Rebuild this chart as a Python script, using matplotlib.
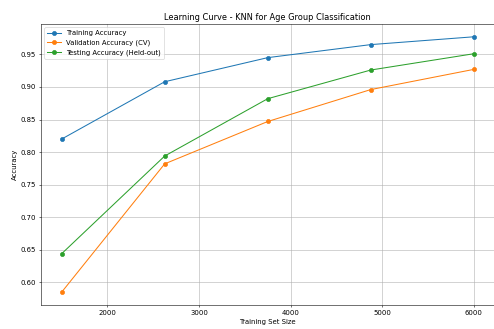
import matplotlib
matplotlib.use("Agg")
import matplotlib.pyplot as plt

train_sizes = [1500, 2625, 3750, 4875, 6000]
train_acc = [0.820, 0.908, 0.945, 0.965, 0.977]
val_acc = [0.585, 0.782, 0.847, 0.896, 0.927]
test_acc = [0.644, 0.794, 0.882, 0.926, 0.951]

fig = plt.figure(figsize=(10, 6.66), dpi=49.4)
ax = fig.add_axes([0.083, 0.073, 0.918, 0.854])
ax.plot(train_sizes, train_acc, 'o-', label='Training Accuracy')
ax.plot(train_sizes, val_acc, 'o-', label='Validation Accuracy (CV)')
ax.plot(train_sizes, test_acc, 'o-', label='Testing Accuracy (Held-out)')
ax.set_title('Learning Curve - KNN for Age Group Classification', fontsize=12)
ax.set_xlabel('Training Set Size')
ax.set_ylabel('Accuracy')
ax.set_xticks([2000, 3000, 4000, 5000, 6000])
ax.legend(loc='upper left')
ax.grid(True)
fig.savefig('out.png', dpi=49.4)
